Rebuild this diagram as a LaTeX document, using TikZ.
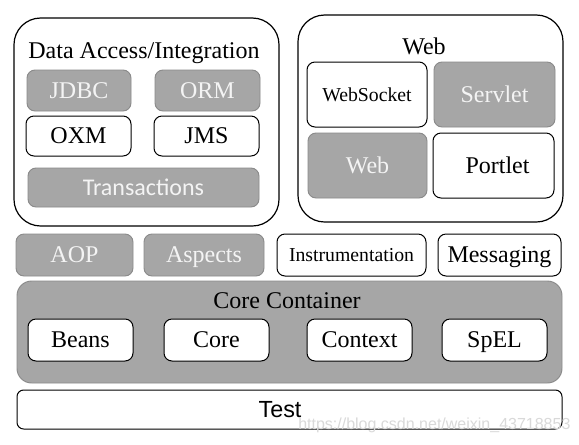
\documentclass[tikz,border=0pt]{standalone}
\usepackage{fontspec}
\setmainfont{Liberation Serif}
\newfontfamily\carlito{Carlito}
\newfontfamily\arialf{Liberation Sans}
\definecolor{boxgray}{HTML}{A6A6A6}
\definecolor{edgegray}{HTML}{8A8A8A}
\definecolor{lighttext}{HTML}{F4F4F4}
\definecolor{wmark}{HTML}{D9D9D9}
\begin{document}
\begin{tikzpicture}[x=0.75pt,y=-0.75pt,
  pbox/.style n args={4}{minimum width={(#3-#1)*0.75pt}, minimum height={(#4-#2)*0.75pt},
     at={({(#1+#3)/2},{(#2+#4)/2})}, inner sep=0pt, outer sep=0pt},
  big/.style={font=\fontsize{18pt}{21pt}\selectfont, text height=11.9pt, text depth=0pt},
  small/.style={font=\fontsize{14.8pt}{17pt}\selectfont, text height=9.8pt, text depth=0pt},
  gbox/.style={draw=edgegray, line width=0.7pt, fill=boxgray, rounded corners=6pt, text=lighttext, big},
  wbox/.style={draw=black, line width=0.75pt, fill=white, rounded corners=6pt, text=black, big},
  outerbox/.style={draw=black, line width=0.9pt, fill=white, rounded corners=20pt},
  titletext/.style={font=\fontsize{18pt}{21pt}\selectfont, anchor=base, inner sep=0pt}
]
\useasboundingbox (0,0) rectangle (579,444);

% Data Access / Integration
\node[outerbox, pbox={14}{18}{279}{226}] (data) {};
\node[titletext] (datatitle) at (144,58) {Data Access/Integration};
\node[gbox, pbox={27}{70}{131}{111}] (jdbc) {JDBC};
\node[gbox, pbox={155}{70}{260}{111}] (orm) {ORM};
\node[wbox, pbox={26}{116}{131}{156}] (oxm) {OXM};
\node[wbox, pbox={154}{116}{259}{156}] (jms) {JMS};
\node[gbox, pbox={28}{168}{259}{207}, font=\carlito\fontsize{18pt}{21pt}\selectfont, text height=11.6pt] (trans) {Transactions};

% Web
\node[outerbox, pbox={298}{15}{563}{222}] (webouter) {};
\node[titletext] (webtitle) at (424,54) {Web};
\node[wbox, pbox={307}{62}{427}{127}, small] (websocket) {WebSocket};
\node[gbox, pbox={434}{62}{555}{127}] (servlet) {Servlet};
\node[gbox, pbox={308}{133}{427}{198}] (web) {Web};
\node[wbox, pbox={433}{133}{554}{198}] (portlet) {\hspace*{6pt}Portlet};

% middle row
\node[gbox, pbox={16}{234}{133}{276}] (aop) {AOP};
\node[gbox, pbox={144}{234}{264}{276}] (aspects) {Aspects};
\node[wbox, pbox={277}{234}{426}{276}, small] (instr) {Instrumentation};
\node[wbox, pbox={438}{234}{561}{276}] (msg) {Messaging};

% Core Container
\node[draw=edgegray, line width=0.7pt, fill=boxgray, rounded corners=11pt, pbox={17}{281}{562}{383}] (core) {};
\node[titletext] (coretitle) at (287,308) {Core Container};
\node[wbox, pbox={28}{319}{133}{361}] (beans) {Beans};
\node[wbox, pbox={164}{319}{269}{361}] (corem) {Core};
\node[wbox, pbox={307}{319}{412}{361}] (context) {Context};
\node[wbox, pbox={442}{319}{547}{361}] (spel) {SpEL};

% Test
\node[wbox, pbox={17}{390}{562}{429}, rounded corners=5pt] (test) {};
\node[font=\arialf\fontsize{17.5pt}{20pt}\selectfont, text height=12.5pt, text depth=0pt, inner sep=0pt] (testlabel) at (280,409.5) {Test};

% watermark
\node[font=\arialf\fontsize{12pt}{14pt}\selectfont, text=wmark, anchor=base west, inner sep=0pt] (wm) at (298,429) {https://blog.csdn.net/weixin\_43718853};
\end{tikzpicture}
\end{document}
